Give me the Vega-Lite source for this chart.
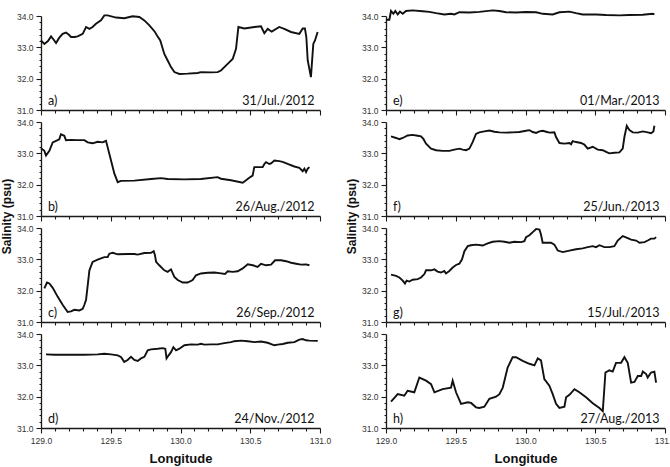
{
  "$schema": "https://vega.github.io/schema/vega-lite/v6.json",
  "background": "white",
  "padding": {"left": 0, "top": 6, "right": 0, "bottom": 0},
  "columns": 2,
  "spacing": {"row": 12, "column": 66},
  "bounds": "flush",
  "config": {
    "view": {"stroke": null},
    "axis": {
      "grid": false,
      "domainColor": "#1a1a1a",
      "domainWidth": 1.3,
      "tickColor": "#1a1a1a",
      "tickWidth": 1.1,
      "labelFont": "Liberation Sans",
      "labelFontSize": 8.5,
      "labelColor": "#333333",
      "labelPadding": 3,
      "labelFlush": false,
      "titleFont": "Liberation Sans",
      "titleFontSize": 13,
      "titleFontWeight": "bold",
      "titleColor": "#111111"
    },
    "line": {"color": "#111111", "strokeWidth": 1.9, "clip": false},
    "text": {"font": "Lato", "fontSize": 12.5, "color": "#111111", "baseline": "alphabetic"}
  },
  "datasets": {
    "labels": [
      {"p": "a", "tag": "a)", "date": "31/Jul./2012"},
      {"p": "b", "tag": "b)", "date": "26/Aug./2012"},
      {"p": "c", "tag": "c)", "date": "26/Sep./2012"},
      {"p": "d", "tag": "d)", "date": "24/Nov./2012"},
      {"p": "e", "tag": "e)", "date": "01/Mar./2013"},
      {"p": "f", "tag": "f)", "date": "25/Jun./2013"},
      {"p": "g", "tag": "g)", "date": "15/Jul./2013"},
      {"p": "h", "tag": "h)", "date": "27/Aug./2013"}
    ],
    "a": [
      {"lon":129.0,"sal":33.22},{"lon":129.024,"sal":33.11},{"lon":129.05,"sal":33.2},{"lon":129.072,"sal":33.35},{"lon":129.09,"sal":33.25},{"lon":129.108,"sal":33.14},{"lon":129.13,"sal":33.3},{"lon":129.155,"sal":33.43},{"lon":129.179,"sal":33.47},{"lon":129.2,"sal":33.4},{"lon":129.215,"sal":33.33},{"lon":129.24,"sal":33.33},{"lon":129.263,"sal":33.35},{"lon":129.299,"sal":33.43},{"lon":129.323,"sal":33.65},{"lon":129.347,"sal":33.59},{"lon":129.37,"sal":33.65},{"lon":129.394,"sal":33.75},{"lon":129.43,"sal":33.86},{"lon":129.454,"sal":34.02},{"lon":129.478,"sal":34.02},{"lon":129.538,"sal":33.95},{"lon":129.597,"sal":33.93},{"lon":129.657,"sal":33.99},{"lon":129.705,"sal":33.97},{"lon":129.741,"sal":33.86},{"lon":129.777,"sal":33.7},{"lon":129.817,"sal":33.49},{"lon":129.835,"sal":33.35},{"lon":129.855,"sal":33.22},{"lon":129.884,"sal":32.79},{"lon":129.908,"sal":32.58},{"lon":129.932,"sal":32.37},{"lon":129.956,"sal":32.21},{"lon":129.992,"sal":32.15},{"lon":130.051,"sal":32.16},{"lon":130.123,"sal":32.18},{"lon":130.147,"sal":32.21},{"lon":130.219,"sal":32.2},{"lon":130.266,"sal":32.21},{"lon":130.29,"sal":32.26},{"lon":130.338,"sal":32.47},{"lon":130.374,"sal":32.63},{"lon":130.398,"sal":32.95},{"lon":130.415,"sal":33.65},{"lon":130.458,"sal":33.6},{"lon":130.53,"sal":33.65},{"lon":130.577,"sal":33.67},{"lon":130.601,"sal":33.45},{"lon":130.625,"sal":33.59},{"lon":130.654,"sal":33.5},{"lon":130.708,"sal":33.65},{"lon":130.744,"sal":33.59},{"lon":130.792,"sal":33.49},{"lon":130.852,"sal":33.43},{"lon":130.876,"sal":33.6},{"lon":130.892,"sal":33.6},{"lon":130.902,"sal":33.33},{"lon":130.912,"sal":32.58},{"lon":130.935,"sal":32.05},{"lon":130.952,"sal":33.11},{"lon":130.964,"sal":33.22},{"lon":130.983,"sal":33.49}
    ],
    "b": [
      {"lon":129.0,"sal":33.16},{"lon":129.024,"sal":33.08},{"lon":129.036,"sal":32.93},{"lon":129.06,"sal":33.08},{"lon":129.084,"sal":33.35},{"lon":129.108,"sal":33.4},{"lon":129.131,"sal":33.45},{"lon":129.143,"sal":33.61},{"lon":129.167,"sal":33.56},{"lon":129.179,"sal":33.42},{"lon":129.215,"sal":33.43},{"lon":129.263,"sal":33.42},{"lon":129.311,"sal":33.42},{"lon":129.335,"sal":33.35},{"lon":129.37,"sal":33.32},{"lon":129.406,"sal":33.37},{"lon":129.442,"sal":33.35},{"lon":129.466,"sal":33.4},{"lon":129.478,"sal":33.19},{"lon":129.502,"sal":32.77},{"lon":129.526,"sal":32.35},{"lon":129.55,"sal":32.08},{"lon":129.573,"sal":32.12},{"lon":129.669,"sal":32.13},{"lon":129.789,"sal":32.18},{"lon":129.86,"sal":32.21},{"lon":129.908,"sal":32.18},{"lon":130.027,"sal":32.17},{"lon":130.147,"sal":32.18},{"lon":130.266,"sal":32.24},{"lon":130.29,"sal":32.19},{"lon":130.362,"sal":32.14},{"lon":130.446,"sal":32.06},{"lon":130.47,"sal":32.14},{"lon":130.493,"sal":32.22},{"lon":130.517,"sal":32.29},{"lon":130.529,"sal":32.56},{"lon":130.553,"sal":32.56},{"lon":130.589,"sal":32.56},{"lon":130.601,"sal":32.66},{"lon":130.613,"sal":32.72},{"lon":130.637,"sal":32.66},{"lon":130.649,"sal":32.68},{"lon":130.673,"sal":32.77},{"lon":130.708,"sal":32.75},{"lon":130.732,"sal":32.73},{"lon":130.768,"sal":32.66},{"lon":130.816,"sal":32.58},{"lon":130.852,"sal":32.54},{"lon":130.876,"sal":32.43},{"lon":130.888,"sal":32.51},{"lon":130.9,"sal":32.4},{"lon":130.912,"sal":32.51},{"lon":130.924,"sal":32.56}
    ],
    "c": [
      {"lon":129.024,"sal":32.07},{"lon":129.043,"sal":32.26},{"lon":129.06,"sal":32.23},{"lon":129.084,"sal":32.09},{"lon":129.119,"sal":31.81},{"lon":129.155,"sal":31.55},{"lon":129.191,"sal":31.32},{"lon":129.215,"sal":31.34},{"lon":129.239,"sal":31.39},{"lon":129.275,"sal":31.37},{"lon":129.299,"sal":31.42},{"lon":129.311,"sal":31.55},{"lon":129.323,"sal":31.71},{"lon":129.335,"sal":32.18},{"lon":129.347,"sal":32.65},{"lon":129.37,"sal":32.92},{"lon":129.406,"sal":32.99},{"lon":129.454,"sal":33.07},{"lon":129.478,"sal":33.07},{"lon":129.49,"sal":33.18},{"lon":129.514,"sal":33.21},{"lon":129.55,"sal":33.16},{"lon":129.621,"sal":33.17},{"lon":129.669,"sal":33.17},{"lon":129.693,"sal":33.15},{"lon":129.741,"sal":33.2},{"lon":129.789,"sal":33.21},{"lon":129.808,"sal":33.26},{"lon":129.817,"sal":33.13},{"lon":129.825,"sal":32.92},{"lon":129.848,"sal":32.81},{"lon":129.884,"sal":32.65},{"lon":129.908,"sal":32.6},{"lon":129.932,"sal":32.68},{"lon":129.956,"sal":32.44},{"lon":129.98,"sal":32.34},{"lon":130.016,"sal":32.26},{"lon":130.051,"sal":32.26},{"lon":130.087,"sal":32.34},{"lon":130.111,"sal":32.49},{"lon":130.147,"sal":32.55},{"lon":130.195,"sal":32.57},{"lon":130.243,"sal":32.58},{"lon":130.291,"sal":32.55},{"lon":130.319,"sal":32.53},{"lon":130.338,"sal":32.62},{"lon":130.374,"sal":32.6},{"lon":130.41,"sal":32.62},{"lon":130.446,"sal":32.71},{"lon":130.482,"sal":32.84},{"lon":130.518,"sal":32.81},{"lon":130.553,"sal":32.76},{"lon":130.577,"sal":32.86},{"lon":130.613,"sal":32.81},{"lon":130.649,"sal":32.83},{"lon":130.678,"sal":32.97},{"lon":130.721,"sal":32.97},{"lon":130.757,"sal":32.94},{"lon":130.793,"sal":32.89},{"lon":130.829,"sal":32.86},{"lon":130.864,"sal":32.83},{"lon":130.9,"sal":32.84},{"lon":130.924,"sal":32.81}
    ],
    "d": [
      {"lon":129.036,"sal":33.35},{"lon":129.096,"sal":33.34},{"lon":129.191,"sal":33.34},{"lon":129.311,"sal":33.34},{"lon":129.406,"sal":33.35},{"lon":129.454,"sal":33.37},{"lon":129.502,"sal":33.35},{"lon":129.55,"sal":33.32},{"lon":129.573,"sal":33.27},{"lon":129.597,"sal":33.11},{"lon":129.621,"sal":33.17},{"lon":129.645,"sal":33.27},{"lon":129.669,"sal":33.17},{"lon":129.693,"sal":33.14},{"lon":129.717,"sal":33.22},{"lon":129.741,"sal":33.27},{"lon":129.765,"sal":33.48},{"lon":129.789,"sal":33.51},{"lon":129.836,"sal":33.53},{"lon":129.872,"sal":33.55},{"lon":129.891,"sal":33.53},{"lon":129.9,"sal":33.22},{"lon":129.915,"sal":33.32},{"lon":129.932,"sal":33.42},{"lon":129.949,"sal":33.58},{"lon":129.968,"sal":33.48},{"lon":129.992,"sal":33.53},{"lon":130.028,"sal":33.64},{"lon":130.076,"sal":33.67},{"lon":130.123,"sal":33.66},{"lon":130.147,"sal":33.69},{"lon":130.171,"sal":33.66},{"lon":130.219,"sal":33.67},{"lon":130.267,"sal":33.67},{"lon":130.314,"sal":33.71},{"lon":130.362,"sal":33.74},{"lon":130.386,"sal":33.77},{"lon":130.434,"sal":33.79},{"lon":130.482,"sal":33.77},{"lon":130.53,"sal":33.74},{"lon":130.577,"sal":33.76},{"lon":130.625,"sal":33.72},{"lon":130.673,"sal":33.64},{"lon":130.697,"sal":33.66},{"lon":130.733,"sal":33.68},{"lon":130.769,"sal":33.72},{"lon":130.816,"sal":33.74},{"lon":130.852,"sal":33.82},{"lon":130.876,"sal":33.84},{"lon":130.9,"sal":33.8},{"lon":130.924,"sal":33.79},{"lon":130.984,"sal":33.78}
    ],
    "e": [
      {"lon":129.0,"sal":33.88},{"lon":129.024,"sal":33.88},{"lon":129.036,"sal":34.16},{"lon":129.053,"sal":34.07},{"lon":129.067,"sal":34.16},{"lon":129.084,"sal":34.05},{"lon":129.1,"sal":34.14},{"lon":129.12,"sal":34.07},{"lon":129.143,"sal":34.16},{"lon":129.191,"sal":34.18},{"lon":129.263,"sal":34.15},{"lon":129.311,"sal":34.13},{"lon":129.359,"sal":34.09},{"lon":129.418,"sal":34.05},{"lon":129.466,"sal":34.07},{"lon":129.49,"sal":34.05},{"lon":129.526,"sal":34.12},{"lon":129.598,"sal":34.11},{"lon":129.669,"sal":34.13},{"lon":129.765,"sal":34.18},{"lon":129.813,"sal":34.16},{"lon":129.861,"sal":34.12},{"lon":129.933,"sal":34.11},{"lon":130.004,"sal":34.13},{"lon":130.076,"sal":34.12},{"lon":130.124,"sal":34.07},{"lon":130.195,"sal":34.05},{"lon":130.243,"sal":34.12},{"lon":130.315,"sal":34.14},{"lon":130.362,"sal":34.09},{"lon":130.41,"sal":34.05},{"lon":130.506,"sal":34.05},{"lon":130.577,"sal":34.03},{"lon":130.673,"sal":34.02},{"lon":130.745,"sal":34.03},{"lon":130.84,"sal":34.04},{"lon":130.912,"sal":34.07},{"lon":130.924,"sal":34.05}
    ],
    "f": [
      {"lon":129.036,"sal":33.54},{"lon":129.072,"sal":33.49},{"lon":129.096,"sal":33.45},{"lon":129.12,"sal":33.49},{"lon":129.155,"sal":33.57},{"lon":129.191,"sal":33.59},{"lon":129.227,"sal":33.56},{"lon":129.251,"sal":33.54},{"lon":129.268,"sal":33.46},{"lon":129.287,"sal":33.31},{"lon":129.323,"sal":33.15},{"lon":129.359,"sal":33.1},{"lon":129.406,"sal":33.08},{"lon":129.454,"sal":33.08},{"lon":129.49,"sal":33.12},{"lon":129.526,"sal":33.15},{"lon":129.55,"sal":33.12},{"lon":129.574,"sal":33.1},{"lon":129.598,"sal":33.15},{"lon":129.621,"sal":33.36},{"lon":129.645,"sal":33.62},{"lon":129.669,"sal":33.67},{"lon":129.705,"sal":33.7},{"lon":129.741,"sal":33.73},{"lon":129.777,"sal":33.69},{"lon":129.813,"sal":33.67},{"lon":129.861,"sal":33.66},{"lon":129.909,"sal":33.67},{"lon":129.956,"sal":33.68},{"lon":130.004,"sal":33.72},{"lon":130.028,"sal":33.74},{"lon":130.052,"sal":33.68},{"lon":130.076,"sal":33.65},{"lon":130.1,"sal":33.7},{"lon":130.124,"sal":33.72},{"lon":130.148,"sal":33.69},{"lon":130.171,"sal":33.66},{"lon":130.207,"sal":33.67},{"lon":130.219,"sal":33.52},{"lon":130.243,"sal":33.33},{"lon":130.279,"sal":33.31},{"lon":130.315,"sal":33.33},{"lon":130.327,"sal":33.29},{"lon":130.338,"sal":33.39},{"lon":130.362,"sal":33.36},{"lon":130.398,"sal":33.33},{"lon":130.422,"sal":33.28},{"lon":130.446,"sal":33.15},{"lon":130.482,"sal":33.21},{"lon":130.518,"sal":33.12},{"lon":130.554,"sal":33.1},{"lon":130.578,"sal":33.05},{"lon":130.601,"sal":33.0},{"lon":130.637,"sal":33.02},{"lon":130.673,"sal":33.03},{"lon":130.697,"sal":33.15},{"lon":130.709,"sal":33.52},{"lon":130.726,"sal":33.88},{"lon":130.745,"sal":33.74},{"lon":130.769,"sal":33.67},{"lon":130.805,"sal":33.66},{"lon":130.841,"sal":33.7},{"lon":130.876,"sal":33.67},{"lon":130.9,"sal":33.64},{"lon":130.917,"sal":33.7},{"lon":130.924,"sal":33.88}
    ],
    "g": [
      {"lon":129.036,"sal":32.51},{"lon":129.072,"sal":32.47},{"lon":129.096,"sal":32.42},{"lon":129.12,"sal":32.32},{"lon":129.136,"sal":32.23},{"lon":129.148,"sal":32.32},{"lon":129.167,"sal":32.29},{"lon":129.191,"sal":32.35},{"lon":129.227,"sal":32.37},{"lon":129.251,"sal":32.42},{"lon":129.275,"sal":32.53},{"lon":129.287,"sal":32.65},{"lon":129.323,"sal":32.65},{"lon":129.347,"sal":32.68},{"lon":129.37,"sal":32.61},{"lon":129.394,"sal":32.58},{"lon":129.418,"sal":32.63},{"lon":129.43,"sal":32.55},{"lon":129.454,"sal":32.63},{"lon":129.478,"sal":32.74},{"lon":129.502,"sal":32.82},{"lon":129.526,"sal":32.86},{"lon":129.545,"sal":33.0},{"lon":129.562,"sal":33.26},{"lon":129.586,"sal":33.42},{"lon":129.609,"sal":33.45},{"lon":129.645,"sal":33.47},{"lon":129.693,"sal":33.44},{"lon":129.729,"sal":33.51},{"lon":129.765,"sal":33.56},{"lon":129.813,"sal":33.58},{"lon":129.849,"sal":33.56},{"lon":129.885,"sal":33.53},{"lon":129.92,"sal":33.56},{"lon":129.968,"sal":33.55},{"lon":129.992,"sal":33.58},{"lon":130.004,"sal":33.71},{"lon":130.028,"sal":33.77},{"lon":130.052,"sal":33.87},{"lon":130.076,"sal":33.97},{"lon":130.1,"sal":33.95},{"lon":130.111,"sal":33.79},{"lon":130.123,"sal":33.53},{"lon":130.147,"sal":33.53},{"lon":130.183,"sal":33.53},{"lon":130.207,"sal":33.47},{"lon":130.231,"sal":33.28},{"lon":130.267,"sal":33.23},{"lon":130.315,"sal":33.28},{"lon":130.362,"sal":33.32},{"lon":130.41,"sal":33.35},{"lon":130.446,"sal":33.39},{"lon":130.482,"sal":33.42},{"lon":130.506,"sal":33.39},{"lon":130.53,"sal":33.45},{"lon":130.565,"sal":33.39},{"lon":130.601,"sal":33.39},{"lon":130.637,"sal":33.42},{"lon":130.661,"sal":33.6},{"lon":130.697,"sal":33.74},{"lon":130.733,"sal":33.68},{"lon":130.757,"sal":33.63},{"lon":130.793,"sal":33.6},{"lon":130.817,"sal":33.53},{"lon":130.853,"sal":33.55},{"lon":130.876,"sal":33.6},{"lon":130.9,"sal":33.66},{"lon":130.924,"sal":33.66},{"lon":130.936,"sal":33.71}
    ],
    "h": [
      {"lon":129.036,"sal":31.84},{"lon":129.084,"sal":32.08},{"lon":129.131,"sal":32.03},{"lon":129.155,"sal":32.19},{"lon":129.203,"sal":32.14},{"lon":129.239,"sal":32.61},{"lon":129.287,"sal":32.51},{"lon":129.323,"sal":32.4},{"lon":129.347,"sal":32.14},{"lon":129.406,"sal":32.24},{"lon":129.466,"sal":32.29},{"lon":129.478,"sal":32.51},{"lon":129.502,"sal":32.14},{"lon":129.538,"sal":31.77},{"lon":129.586,"sal":31.82},{"lon":129.61,"sal":31.8},{"lon":129.645,"sal":31.66},{"lon":129.669,"sal":31.64},{"lon":129.705,"sal":31.68},{"lon":129.741,"sal":31.93},{"lon":129.789,"sal":32.0},{"lon":129.813,"sal":32.08},{"lon":129.837,"sal":32.29},{"lon":129.872,"sal":32.93},{"lon":129.908,"sal":33.26},{"lon":129.932,"sal":33.26},{"lon":129.98,"sal":33.14},{"lon":130.028,"sal":33.05},{"lon":130.064,"sal":33.0},{"lon":130.088,"sal":33.22},{"lon":130.111,"sal":33.16},{"lon":130.135,"sal":32.56},{"lon":130.171,"sal":32.35},{"lon":130.195,"sal":32.08},{"lon":130.219,"sal":31.77},{"lon":130.243,"sal":31.64},{"lon":130.279,"sal":31.68},{"lon":130.291,"sal":31.98},{"lon":130.315,"sal":32.06},{"lon":130.351,"sal":32.24},{"lon":130.386,"sal":32.14},{"lon":130.434,"sal":31.98},{"lon":130.482,"sal":31.79},{"lon":130.53,"sal":31.64},{"lon":130.554,"sal":31.54},{"lon":130.573,"sal":32.77},{"lon":130.601,"sal":32.84},{"lon":130.625,"sal":32.8},{"lon":130.649,"sal":33.08},{"lon":130.685,"sal":33.08},{"lon":130.709,"sal":33.26},{"lon":130.733,"sal":33.08},{"lon":130.757,"sal":32.45},{"lon":130.781,"sal":32.47},{"lon":130.805,"sal":32.66},{"lon":130.829,"sal":32.66},{"lon":130.841,"sal":32.8},{"lon":130.865,"sal":32.72},{"lon":130.876,"sal":32.61},{"lon":130.9,"sal":32.77},{"lon":130.924,"sal":32.8},{"lon":130.936,"sal":32.45}
    ]
  },
  "concat": [
    {"width": 279, "height": 94, "resolve": {"axis": {"x": "independent", "y": "independent"}}, "layer": [
      {"data": {"name": "a"}, "mark": "line", "encoding": {
        "x": {"field": "lon", "type": "quantitative", "scale": {"domain": [129, 131], "nice": false, "zero": false},
          "axis": {"orient": "bottom", "values": [129.0, 129.5, 130.0, 130.5, 131.0], "labels": false, "title": null, "tickSize": 5}},
        "y": {"field": "sal", "type": "quantitative", "scale": {"domain": [31, 34], "nice": false, "zero": false},
          "axis": {"orient": "left", "values": [31, 32, 33, 34], "format": ".1f", "title": null, "tickSize": 5}}}},
      {"data": {"name": "labels"}, "transform": [{"filter": "datum.p == 'a'"}], "mark": {"type": "text", "align": "left"},
        "encoding": {
          "x": {"datum": 129.05, "axis": {"orient": "bottom", "values": [129.1,129.2,129.3,129.4,129.6,129.7,129.8,129.9,130.1,130.2,130.3,130.4,130.6,130.7,130.8,130.9], "labels": false, "domain": false, "title": null, "tickSize": 3}},
          "y": {"datum": 31.17, "axis": {"orient": "left", "values": [31.2,31.4,31.6,31.8,32.2,32.4,32.6,32.8,33.2,33.4,33.6,33.8], "labels": false, "domain": false, "title": null, "tickSize": 2}},
          "text": {"field": "tag"}}},
      {"data": {"name": "labels"}, "transform": [{"filter": "datum.p == 'a'"}], "mark": {"type": "text", "align": "right"},
        "encoding": {"x": {"datum": 130.96, "axis": null}, "y": {"datum": 31.17, "axis": null}, "text": {"field": "date"}}}
    ]},
    {"width": 279, "height": 94, "resolve": {"axis": {"x": "independent", "y": "independent"}}, "layer": [
      {"data": {"name": "e"}, "mark": "line", "encoding": {
        "x": {"field": "lon", "type": "quantitative", "scale": {"domain": [129, 131], "nice": false, "zero": false},
          "axis": {"orient": "bottom", "values": [129.0, 129.5, 130.0, 130.5, 131.0], "labels": false, "title": null, "tickSize": 5}},
        "y": {"field": "sal", "type": "quantitative", "scale": {"domain": [31, 34], "nice": false, "zero": false},
          "axis": {"orient": "left", "values": [31, 32, 33, 34], "format": ".1f", "title": null, "tickSize": 5}}}},
      {"data": {"name": "labels"}, "transform": [{"filter": "datum.p == 'e'"}], "mark": {"type": "text", "align": "left"},
        "encoding": {
          "x": {"datum": 129.05, "axis": {"orient": "bottom", "values": [129.1,129.2,129.3,129.4,129.6,129.7,129.8,129.9,130.1,130.2,130.3,130.4,130.6,130.7,130.8,130.9], "labels": false, "domain": false, "title": null, "tickSize": 3}},
          "y": {"datum": 31.17, "axis": {"orient": "left", "values": [31.2,31.4,31.6,31.8,32.2,32.4,32.6,32.8,33.2,33.4,33.6,33.8], "labels": false, "domain": false, "title": null, "tickSize": 2}},
          "text": {"field": "tag"}}},
      {"data": {"name": "labels"}, "transform": [{"filter": "datum.p == 'e'"}], "mark": {"type": "text", "align": "right"},
        "encoding": {"x": {"datum": 130.96, "axis": null}, "y": {"datum": 31.17, "axis": null}, "text": {"field": "date"}}}
    ]},
    {"width": 279, "height": 94, "resolve": {"axis": {"x": "independent", "y": "independent"}}, "layer": [
      {"data": {"name": "b"}, "mark": "line", "encoding": {
        "x": {"field": "lon", "type": "quantitative", "scale": {"domain": [129, 131], "nice": false, "zero": false},
          "axis": {"orient": "bottom", "values": [129.0, 129.5, 130.0, 130.5, 131.0], "labels": false, "title": null, "tickSize": 5}},
        "y": {"field": "sal", "type": "quantitative", "scale": {"domain": [31, 34], "nice": false, "zero": false},
          "axis": {"orient": "left", "values": [31, 32, 33, 34], "format": ".1f", "title": "Salinity (psu)", "titleFontSize": 12, "titleY": 94, "titlePadding": 3, "tickSize": 5}}}},
      {"data": {"name": "labels"}, "transform": [{"filter": "datum.p == 'b'"}], "mark": {"type": "text", "align": "left"},
        "encoding": {
          "x": {"datum": 129.05, "axis": {"orient": "bottom", "values": [129.1,129.2,129.3,129.4,129.6,129.7,129.8,129.9,130.1,130.2,130.3,130.4,130.6,130.7,130.8,130.9], "labels": false, "domain": false, "title": null, "tickSize": 3}},
          "y": {"datum": 31.17, "axis": {"orient": "left", "values": [31.2,31.4,31.6,31.8,32.2,32.4,32.6,32.8,33.2,33.4,33.6,33.8], "labels": false, "domain": false, "title": null, "tickSize": 2}},
          "text": {"field": "tag"}}},
      {"data": {"name": "labels"}, "transform": [{"filter": "datum.p == 'b'"}], "mark": {"type": "text", "align": "right"},
        "encoding": {"x": {"datum": 130.96, "axis": null}, "y": {"datum": 31.17, "axis": null}, "text": {"field": "date"}}}
    ]},
    {"width": 279, "height": 94, "resolve": {"axis": {"x": "independent", "y": "independent"}}, "layer": [
      {"data": {"name": "f"}, "mark": "line", "encoding": {
        "x": {"field": "lon", "type": "quantitative", "scale": {"domain": [129, 131], "nice": false, "zero": false},
          "axis": {"orient": "bottom", "values": [129.0, 129.5, 130.0, 130.5, 131.0], "labels": false, "title": null, "tickSize": 5}},
        "y": {"field": "sal", "type": "quantitative", "scale": {"domain": [31, 34], "nice": false, "zero": false},
          "axis": {"orient": "left", "values": [31, 32, 33, 34], "format": ".1f", "title": "Salinity (psu)", "titleFontSize": 12, "titleY": 94, "titlePadding": 3, "tickSize": 5}}}},
      {"data": {"name": "labels"}, "transform": [{"filter": "datum.p == 'f'"}], "mark": {"type": "text", "align": "left"},
        "encoding": {
          "x": {"datum": 129.05, "axis": {"orient": "bottom", "values": [129.1,129.2,129.3,129.4,129.6,129.7,129.8,129.9,130.1,130.2,130.3,130.4,130.6,130.7,130.8,130.9], "labels": false, "domain": false, "title": null, "tickSize": 3}},
          "y": {"datum": 31.17, "axis": {"orient": "left", "values": [31.2,31.4,31.6,31.8,32.2,32.4,32.6,32.8,33.2,33.4,33.6,33.8], "labels": false, "domain": false, "title": null, "tickSize": 2}},
          "text": {"field": "tag"}}},
      {"data": {"name": "labels"}, "transform": [{"filter": "datum.p == 'f'"}], "mark": {"type": "text", "align": "right"},
        "encoding": {"x": {"datum": 130.96, "axis": null}, "y": {"datum": 31.17, "axis": null}, "text": {"field": "date"}}}
    ]},
    {"width": 279, "height": 94, "resolve": {"axis": {"x": "independent", "y": "independent"}}, "layer": [
      {"data": {"name": "c"}, "mark": "line", "encoding": {
        "x": {"field": "lon", "type": "quantitative", "scale": {"domain": [129, 131], "nice": false, "zero": false},
          "axis": {"orient": "bottom", "values": [129.0, 129.5, 130.0, 130.5, 131.0], "labels": false, "title": null, "tickSize": 5}},
        "y": {"field": "sal", "type": "quantitative", "scale": {"domain": [31, 34], "nice": false, "zero": false},
          "axis": {"orient": "left", "values": [31, 32, 33, 34], "format": ".1f", "title": null, "tickSize": 5}}}},
      {"data": {"name": "labels"}, "transform": [{"filter": "datum.p == 'c'"}], "mark": {"type": "text", "align": "left"},
        "encoding": {
          "x": {"datum": 129.05, "axis": {"orient": "bottom", "values": [129.1,129.2,129.3,129.4,129.6,129.7,129.8,129.9,130.1,130.2,130.3,130.4,130.6,130.7,130.8,130.9], "labels": false, "domain": false, "title": null, "tickSize": 3}},
          "y": {"datum": 31.17, "axis": {"orient": "left", "values": [31.2,31.4,31.6,31.8,32.2,32.4,32.6,32.8,33.2,33.4,33.6,33.8], "labels": false, "domain": false, "title": null, "tickSize": 2}},
          "text": {"field": "tag"}}},
      {"data": {"name": "labels"}, "transform": [{"filter": "datum.p == 'c'"}], "mark": {"type": "text", "align": "right"},
        "encoding": {"x": {"datum": 130.96, "axis": null}, "y": {"datum": 31.17, "axis": null}, "text": {"field": "date"}}}
    ]},
    {"width": 279, "height": 94, "resolve": {"axis": {"x": "independent", "y": "independent"}}, "layer": [
      {"data": {"name": "g"}, "mark": "line", "encoding": {
        "x": {"field": "lon", "type": "quantitative", "scale": {"domain": [129, 131], "nice": false, "zero": false},
          "axis": {"orient": "bottom", "values": [129.0, 129.5, 130.0, 130.5, 131.0], "labels": false, "title": null, "tickSize": 5}},
        "y": {"field": "sal", "type": "quantitative", "scale": {"domain": [31, 34], "nice": false, "zero": false},
          "axis": {"orient": "left", "values": [31, 32, 33, 34], "format": ".1f", "title": null, "tickSize": 5}}}},
      {"data": {"name": "labels"}, "transform": [{"filter": "datum.p == 'g'"}], "mark": {"type": "text", "align": "left"},
        "encoding": {
          "x": {"datum": 129.05, "axis": {"orient": "bottom", "values": [129.1,129.2,129.3,129.4,129.6,129.7,129.8,129.9,130.1,130.2,130.3,130.4,130.6,130.7,130.8,130.9], "labels": false, "domain": false, "title": null, "tickSize": 3}},
          "y": {"datum": 31.17, "axis": {"orient": "left", "values": [31.2,31.4,31.6,31.8,32.2,32.4,32.6,32.8,33.2,33.4,33.6,33.8], "labels": false, "domain": false, "title": null, "tickSize": 2}},
          "text": {"field": "tag"}}},
      {"data": {"name": "labels"}, "transform": [{"filter": "datum.p == 'g'"}], "mark": {"type": "text", "align": "right"},
        "encoding": {"x": {"datum": 130.96, "axis": null}, "y": {"datum": 31.17, "axis": null}, "text": {"field": "date"}}}
    ]},
    {"width": 279, "height": 94, "resolve": {"axis": {"x": "independent", "y": "independent"}}, "layer": [
      {"data": {"name": "d"}, "mark": "line", "encoding": {
        "x": {"field": "lon", "type": "quantitative", "scale": {"domain": [129, 131], "nice": false, "zero": false},
          "axis": {"orient": "bottom", "values": [129.0, 129.5, 130.0, 130.5, 131.0], "format": ".1f", "title": "Longitude", "titlePadding": 8, "tickSize": 5}},
        "y": {"field": "sal", "type": "quantitative", "scale": {"domain": [31, 34], "nice": false, "zero": false},
          "axis": {"orient": "left", "values": [31, 32, 33, 34], "format": ".1f", "title": null, "tickSize": 5}}}},
      {"data": {"name": "labels"}, "transform": [{"filter": "datum.p == 'd'"}], "mark": {"type": "text", "align": "left"},
        "encoding": {
          "x": {"datum": 129.05, "axis": {"orient": "bottom", "values": [129.1,129.2,129.3,129.4,129.6,129.7,129.8,129.9,130.1,130.2,130.3,130.4,130.6,130.7,130.8,130.9], "labels": false, "domain": false, "title": null, "tickSize": 3}},
          "y": {"datum": 31.17, "axis": {"orient": "left", "values": [31.2,31.4,31.6,31.8,32.2,32.4,32.6,32.8,33.2,33.4,33.6,33.8], "labels": false, "domain": false, "title": null, "tickSize": 2}},
          "text": {"field": "tag"}}},
      {"data": {"name": "labels"}, "transform": [{"filter": "datum.p == 'd'"}], "mark": {"type": "text", "align": "right"},
        "encoding": {"x": {"datum": 130.96, "axis": null}, "y": {"datum": 31.17, "axis": null}, "text": {"field": "date"}}}
    ]},
    {"width": 279, "height": 94, "resolve": {"axis": {"x": "independent", "y": "independent"}}, "layer": [
      {"data": {"name": "h"}, "mark": "line", "encoding": {
        "x": {"field": "lon", "type": "quantitative", "scale": {"domain": [129, 131], "nice": false, "zero": false},
          "axis": {"orient": "bottom", "values": [129.0, 129.5, 130.0, 130.5, 131.0], "format": ".1f", "title": "Longitude", "titlePadding": 8, "tickSize": 5}},
        "y": {"field": "sal", "type": "quantitative", "scale": {"domain": [31, 34], "nice": false, "zero": false},
          "axis": {"orient": "left", "values": [31, 32, 33, 34], "format": ".1f", "title": null, "tickSize": 5}}}},
      {"data": {"name": "labels"}, "transform": [{"filter": "datum.p == 'h'"}], "mark": {"type": "text", "align": "left"},
        "encoding": {
          "x": {"datum": 129.05, "axis": {"orient": "bottom", "values": [129.1,129.2,129.3,129.4,129.6,129.7,129.8,129.9,130.1,130.2,130.3,130.4,130.6,130.7,130.8,130.9], "labels": false, "domain": false, "title": null, "tickSize": 3}},
          "y": {"datum": 31.17, "axis": {"orient": "left", "values": [31.2,31.4,31.6,31.8,32.2,32.4,32.6,32.8,33.2,33.4,33.6,33.8], "labels": false, "domain": false, "title": null, "tickSize": 2}},
          "text": {"field": "tag"}}},
      {"data": {"name": "labels"}, "transform": [{"filter": "datum.p == 'h'"}], "mark": {"type": "text", "align": "right"},
        "encoding": {"x": {"datum": 130.96, "axis": null}, "y": {"datum": 31.17, "axis": null}, "text": {"field": "date"}}}
    ]}
  ]
}
